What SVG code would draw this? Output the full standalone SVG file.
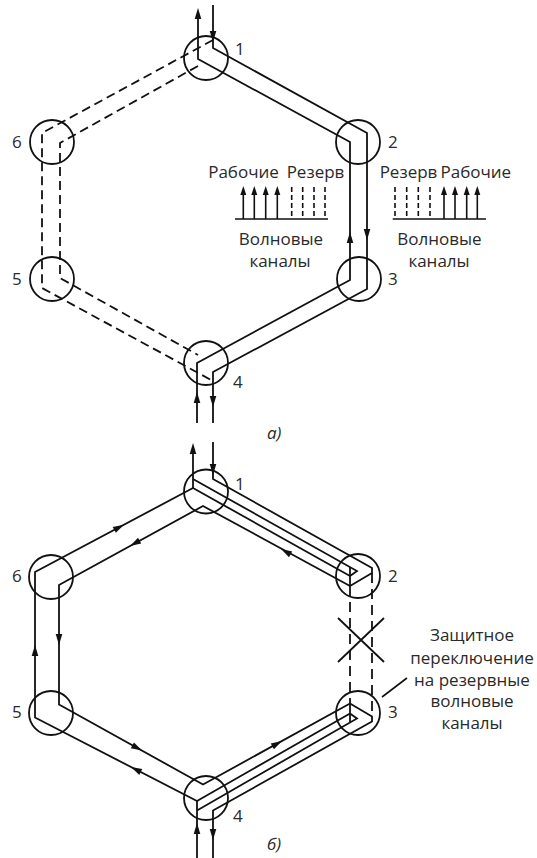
<svg xmlns="http://www.w3.org/2000/svg" xmlns:xlink="http://www.w3.org/1999/xlink" width="537" height="858" viewBox="0 0 537 858">
<style>
.ln{fill:none;stroke:#111;stroke-width:1.8;stroke-linejoin:miter}
.ds{stroke-dasharray:9 5}
.ds2{stroke-dasharray:10 6}
.lg{fill:none;stroke:#111;stroke-width:1.6}
.lgd{fill:none;stroke:#111;stroke-width:1.6;stroke-dasharray:5 3}
.nd circle{fill:none;stroke:#111;stroke-width:1.8}
text{font-family:"Open Sans","Noto Sans",sans-serif;font-size:17px;fill:#2a2a2a}
.c{text-anchor:middle}
.it{font-style:italic}
</style>
<defs>
<path id="ah" d="M0,0 L-11,-3.3 L-11,3.3 Z" fill="#111"/>
<path id="ahs" d="M0,0 L-9,-3 L-9,3 Z" fill="#111"/>
</defs>

<!-- ===== a) ===== -->
<g id="a-nodes">
<g id="a1" class="nd"><circle cx="206" cy="58" r="22"/><text x="235" y="55">1</text></g>
<g id="a2" class="nd"><circle cx="358" cy="142" r="22"/><text x="388" y="148">2</text></g>
<g id="a3" class="nd"><circle cx="359" cy="279" r="22"/><text x="388" y="285">3</text></g>
<g id="a4" class="nd"><circle cx="206" cy="363" r="22"/><text x="233" y="388">4</text></g>
<g id="a5" class="nd"><circle cx="52" cy="279" r="22"/><text x="12" y="285">5</text></g>
<g id="a6" class="nd"><circle cx="52" cy="142" r="22"/><text x="12" y="148">6</text></g>
</g>

<g id="a-connectors">
<path class="ln" d="M198,12 L198,59 L350,142 L350,280 L197,363 L197,423"/>
<path class="ln" d="M213,5 L213,48 L367,133 L367,289 L213,372 L213,423"/>
<path class="ln ds" d="M213,40 L42,133 L42,288 L213,381"/>
<path class="ln ds" d="M198,66 L60,143 L60,278 L198,355"/>
<use xlink:href="#ah" transform="translate(198,8) rotate(-90)"/>
<use xlink:href="#ah" transform="translate(213,42) rotate(90)"/>
<use xlink:href="#ah" transform="translate(350,232) rotate(-90)"/>
<use xlink:href="#ah" transform="translate(367,240) rotate(90)"/>
<use xlink:href="#ah" transform="translate(197,392) rotate(-90)"/>
<use xlink:href="#ah" transform="translate(213,407) rotate(90)"/>
</g>

<g id="a-legend-left">
<text class="c" x="243.5" y="178">Рабочие</text>
<text class="c" x="315.5" y="178">Резерв</text>
<path class="lg" d="M235,219 L328,219 M243.3,219 V190 M254.3,219 V190 M265.7,219 V190 M277.3,219 V190"/>
<use xlink:href="#ahs" transform="translate(243.3,186) rotate(-90)"/>
<use xlink:href="#ahs" transform="translate(254.3,186) rotate(-90)"/>
<use xlink:href="#ahs" transform="translate(265.7,186) rotate(-90)"/>
<use xlink:href="#ahs" transform="translate(277.3,186) rotate(-90)"/>
<path class="lgd" d="M291.7,187 V219 M302.7,187 V219 M314,187 V219 M325,187 V219"/>
<text class="c" x="281" y="245">Волновые</text>
<text class="c" x="280" y="267">каналы</text>
</g>

<g id="a-legend-right">
<text class="c" x="408.5" y="178">Резерв</text>
<text class="c" x="475.8" y="178">Рабочие</text>
<path class="lgd" d="M395,187 V219 M406.7,187 V219 M418.3,187 V219 M430,187 V219"/>
<path class="lg" d="M392.7,219 L486,219 M444,219 V190 M455,219 V190 M466.7,219 V190 M477.3,219 V190"/>
<use xlink:href="#ahs" transform="translate(444,186) rotate(-90)"/>
<use xlink:href="#ahs" transform="translate(455,186) rotate(-90)"/>
<use xlink:href="#ahs" transform="translate(466.7,186) rotate(-90)"/>
<use xlink:href="#ahs" transform="translate(477.3,186) rotate(-90)"/>
<text class="c" x="439.5" y="245">Волновые</text>
<text class="c" x="439" y="267">каналы</text>
</g>

<text class="it" x="267" y="439">а)</text>

<!-- ===== б) ===== -->
<g id="b-nodes">
<g id="b1" class="nd"><circle cx="206" cy="491.5" r="22"/><text x="235" y="490">1</text></g>
<g id="b2" class="nd"><circle cx="358" cy="576" r="22"/><text x="388" y="582">2</text></g>
<g id="b3" class="nd"><circle cx="358" cy="713" r="22"/><text x="388" y="718">3</text></g>
<g id="b4" class="nd"><circle cx="206" cy="798" r="22"/><text x="233" y="822">4</text></g>
<g id="b5" class="nd"><circle cx="51" cy="713" r="22"/><text x="12" y="718">5</text></g>
<g id="b6" class="nd"><circle cx="51" cy="577" r="22"/><text x="12" y="582">6</text></g>
</g>

<g id="b-connectors">
<path class="ln" d="M193,446 L193,488"/>
<path class="ln" d="M213,442 L213,479 L372,568 L372,573 L350,586"/>
<path class="ln" d="M193,479 L357,571 L350,576"/>
<path class="ln" d="M350,576 L193,488 L35,572 L35,717.5 L197,801 L350,713.5"/>
<path class="ln" d="M350,586 L203,506 L59,585 L59,704.5 L203,784.5 L350,703.5"/>
<path class="ln" d="M350,567 L350,586"/>
<path class="ln" d="M350,703.5 L350,722.5"/>
<path class="ln" d="M350,713.5 L357,718.5 L197,810.5"/>
<path class="ln" d="M213,858 L213,810.5 L372,721.5 L372,716.5 L350,703.5"/>
<path class="ln" d="M197,801 L197,858"/>
<path class="ln ds2" d="M350,586 L350,703.5"/>
<path class="ln ds2" d="M372,573 L372,716.5"/>
<path class="ln" d="M338,618 L384,662 M384,618 L338,662"/>
<use xlink:href="#ah" transform="translate(193,443) rotate(-90)"/>
<use xlink:href="#ah" transform="translate(213,475) rotate(90)"/>
<use xlink:href="#ah" transform="translate(124,524.7) rotate(-28)"/>
<use xlink:href="#ah" transform="translate(130,546) rotate(151.3)"/>
<use xlink:href="#ah" transform="translate(281,549) rotate(-151)"/>
<use xlink:href="#ah" transform="translate(35,645) rotate(-90)"/>
<use xlink:href="#ah" transform="translate(59,645) rotate(90)"/>
<use xlink:href="#ah" transform="translate(142,750.6) rotate(29)"/>
<use xlink:href="#ah" transform="translate(131,767) rotate(-152.7)"/>
<use xlink:href="#ah" transform="translate(282,741) rotate(-28.9)"/>
<use xlink:href="#ah" transform="translate(197,823) rotate(-90)"/>
<use xlink:href="#ah" transform="translate(213,840) rotate(90)"/>
<path class="lg" d="M382,697 L407,678"/>
</g>

<g id="b-note">
<text class="c" x="472" y="641">Защитное</text>
<text class="c" x="472" y="664">переключение</text>
<text class="c" x="472" y="686">на резервные</text>
<text class="c" x="472" y="707">волновые</text>
<text class="c" x="472" y="729">каналы</text>
</g>

<text class="it" x="267" y="850">б)</text>
</svg>
